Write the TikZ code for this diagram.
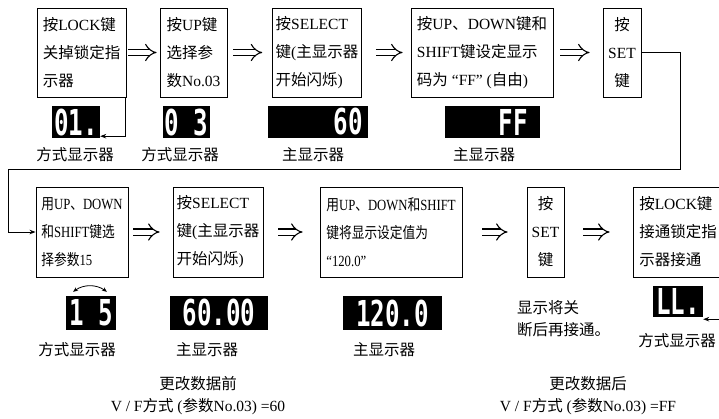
\documentclass[tikz,border=0pt]{standalone}
\usepackage{fontspec}
\usepackage{graphicx}
\usetikzlibrary{arrows.meta,positioning}
\setmainfont{Liberation Serif}
\newfontfamily\zhfont{Noto Sans CJK SC}
\newfontfamily\segfont{DejaVu Sans Mono}

% Chinese characters switch to the CJK font, Latin text switches back
\newcount\zhcode
\XeTeXinterchartokenstate=1
\zhcode="3000
\loop
  \XeTeXcharclass\zhcode=7
  \ifnum\zhcode<"9FFF \advance\zhcode by 1
\repeat
\zhcode="FF00
\loop
  \XeTeXcharclass\zhcode=7
  \ifnum\zhcode<"FFEF \advance\zhcode by 1
\repeat
\XeTeXinterchartoks 0 7 = {\zhfont}
\XeTeXinterchartoks 4095 7 = {\zhfont}
\XeTeXinterchartoks 7 0 = {\rmfamily}
\XeTeXinterchartoks 7 4095 = {\rmfamily}

\newcommand\narrow[1]{\scalebox{0.82}[1]{#1}}
\newcommand\segtext[1]{\scalebox{1.15}[1.7]{\segfont\bfseries\fontsize{21}{21}\selectfont #1}}

\begin{document}
\begin{tikzpicture}[x=1pt,y=-1pt,font=\fontsize{15.5}{28}\selectfont,
    stepbox/.style={draw, line width=0.9pt, inner xsep=3pt, minimum height=89pt, align=left},
    setbox/.style={stepbox, inner xsep=1pt, align=center},
    display/.style={fill=black, text=white, inner sep=0pt, minimum height=32pt},
    caption/.style={inner sep=0pt},
    nextstep/.style={double, double distance=5pt, line width=1.1pt, -{Implies}},
    feed/.style={line width=0.9pt, -{Stealth[length=6pt,width=4.5pt]}}]
    \useasboundingbox (0,0) rectangle (719,418);

    % Row 1: steps
    \node[stepbox, minimum width=89pt] at (81.5,52.5) (unlock) {按LOCK键\\关掉锁定指\\示器};
    \node[stepbox, minimum width=67pt] at (193.5,52.5) (pickno) {按UP键\\选择参\\数No.03};
    \node[stepbox, minimum width=88pt] at (317,52.5) (flash) {按SELECT\\键(主显示器\\开始闪烁)};
    \node[stepbox, minimum width=142pt] at (482,52.5) (setff) {按UP、DOWN键和\\SHIFT键设定显示\\码为 “FF” (自由)};
    \node[setbox, minimum width=38pt] at (622,52.5) (save) {按\\SET\\键};

    % Row 1: displays
    \node[display, minimum width=48pt] at (76,122) (unlockdisp) {\segtext{01.}};
    \node[display, minimum width=47pt] at (186.5,122) (picknodisp) {\segtext{0 3}};
    \node[display, minimum width=100pt, text width=90pt, align=right] at (318,122) (flashdisp) {\segtext{60}};
    \node[display, minimum width=95pt, text width=71pt, align=right] at (492.5,122) (setffdisp) {\segtext{FF}};

    \node[caption] at (75,155) (unlockcap) {方式显示器};
    \node[caption] at (180,155) (picknocap) {方式显示器};
    \node[caption] at (313,155) (flashcap) {主显示器};
    \node[caption] at (484,155) (setffcap) {主显示器};

    % Row 2: steps
    \node[stepbox, minimum width=92pt, minimum height=90pt] at (82,232) (pickpar) {\narrow{用UP、DOWN}\\\narrow{和SHIFT键选}\\\narrow{择参数15}};
    \node[stepbox, minimum width=90pt, minimum height=90pt] at (218,232) (flashb) {按SELECT\\键(主显示器\\开始闪烁)};
    \node[stepbox, minimum width=142pt, minimum height=90pt] at (391,232) (setval) {\narrow{用UP、DOWN和SHIFT}\\\narrow{键将显示设定值为}\\\narrow{“120.0”}};
    \node[setbox, minimum width=37pt, minimum height=90pt] at (545.5,232) (saveb) {按\\SET\\键};
    \node[stepbox, minimum width=90pt, minimum height=90pt] at (678,232) (relock) {按LOCK键\\接通锁定指\\示器接通};

    % Row 2: displays
    \node[display, minimum width=50pt, minimum height=34pt] at (91,313) (pickpardisp) {\segtext{1 5}};
    \node[display, minimum width=98pt, minimum height=34pt] at (219,313) (flashbdisp) {\segtext{60.00}};
    \node[display, minimum width=99pt, minimum height=34pt] at (392.5,313) (setvaldisp) {\segtext{120.0}};
    \node[display, minimum width=50pt, minimum height=31pt] at (678,301.5) (relockdisp) {\segtext{LL.}};

    \node[caption] at (77,350) (pickparcap) {方式显示器};
    \node[caption] at (207,350) (flashbcap) {主显示器};
    \node[caption] at (384,350) (setvalcap) {主显示器};
    \node[caption] at (677,341) (relockcap) {方式显示器};
    \node[caption, anchor=west, align=left, font=\fontsize{15.5}{22}\selectfont] at (517,319) (restart) {显示将关\\断后再接通。};

    % Before / after
    \node[caption, align=center, font=\fontsize{15.5}{22}\selectfont] at (198,396) (before) {更改数据前\\V / F方式 (参数No.03) =60};
    \node[caption, align=center, font=\fontsize{15.5}{22}\selectfont] at (588,396) (after) {更改数据后\\V / F方式 (参数No.03) =FF};

    % Arrows
    \draw[nextstep, shorten <=2pt, shorten >=3pt] (unlock) -- (pickno);
    \draw[nextstep, shorten <=6pt, shorten >=10pt] (pickno) -- (flash);
    \draw[nextstep, shorten <=14pt, shorten >=8pt] (flash) -- (setff);
    \draw[nextstep, shorten <=7pt, shorten >=13pt] (setff) -- (save);
    \draw[nextstep, shorten <=5pt, shorten >=13pt] (pickpar) -- (flashb);
    \draw[nextstep, shorten <=15pt, shorten >=17pt] (flashb) -- (setval);
    \draw[nextstep, shorten <=20pt, shorten >=19pt] (setval) -- (saveb);
    \draw[nextstep, shorten <=19pt, shorten >=23pt] (saveb) -- (relock);

    \draw[feed] ([xshift=-1.5pt]unlock.south east) |- ([yshift=2pt]unlockdisp.south east);
    \draw[feed] (save.east) -- ++(39,0) |- (8,169) |- (pickpar.west);
    \draw[feed] ([xshift=-2pt]relock.south east) |- ([yshift=-2pt]relockdisp.south east);
    \draw[{Stealth[length=5pt,width=4pt]}-{Stealth[length=5pt,width=4pt]}, line width=0.8pt]
        ([xshift=-18pt,yshift=4pt]pickpardisp.north) to[bend left=35] ([xshift=16pt,yshift=4pt]pickpardisp.north);
\end{tikzpicture}
\end{document}
